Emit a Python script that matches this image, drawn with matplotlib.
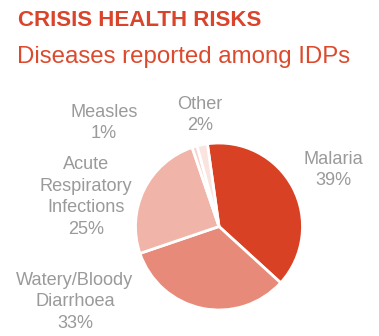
import matplotlib
matplotlib.use("Agg")
import matplotlib.pyplot as plt

categories = ["Malaria", "Watery/Bloody\nDiarrhoea", "Acute\nRespiratory\nInfections", "Measles", "Other"]
values = [39, 33, 25, 1, 2]
colors = ["#D84124", "#E88A79", "#F0B4A8", "#F6D4CD", "#FAE4E0"]
label_pos = [(333, 170), (75, 302), (86, 197), (104, 123), (200, 115)]  # pixel centres

W, H = 379, 336
fig = plt.figure(figsize=(W / 100, H / 100), dpi=100)
plt.rcParams['font.family'] = ['Liberation Sans', 'DejaVu Sans']

fig.text(18 / W, 1 - 20 / H, "CRISIS HEALTH RISKS", color="#D9442B", fontsize=16,
         fontweight="bold", va="center", ha="left")
fig.text(17 / W, 1 - 57 / H, "Diseases reported among IDPs", color="#DC4A2E", fontsize=17.3,
         va="center", ha="left")

cx, cy, r = 219, 226.5, 83.5
ax = fig.add_axes([(cx - r) / W, (H - cy - r) / H, 2 * r / W, 2 * r / H])
ax.pie(values, colors=colors, startangle=98, counterclock=False, radius=1,
       wedgeprops=dict(edgecolor="white", linewidth=2))
ax.set_xlim(-1, 1)
ax.set_ylim(-1, 1)
ax.set_aspect("equal")
ax.axis("off")

for cat, v, (px, py) in zip(categories, values, label_pos):
    fig.text(px / W, 1 - py / H, f"{cat}\n{v}%", color="#9A9A9A", fontsize=13.1,
             ha="center", va="center", linespacing=1.38, multialignment="center")

fig.savefig("out.png", dpi=100)
